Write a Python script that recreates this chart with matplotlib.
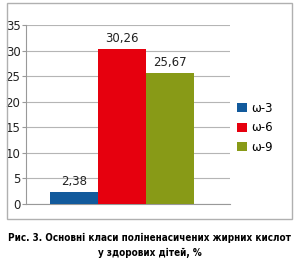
import matplotlib
matplotlib.use("Agg")
import matplotlib.pyplot as plt
from matplotlib.patches import Rectangle

series = ["ω-3", "ω-6", "ω-9"]
values = [2.38, 30.26, 25.67]
value_labels = ["2,38", "30,26", "25,67"]
colors = ["#125a9c", "#e6000e", "#889a17"]
yticks = [0, 5, 10, 15, 20, 25, 30, 35]
caption = "Рис. 3. Основні класи поліненасичених жирних кислот\nу здорових дітей, %"

W, H = 300, 265
fig = plt.figure(figsize=(W / 100, H / 100), dpi=100)

# outer frame
fig.patches.append(Rectangle((7 / W, 1 - 219 / H), (292 - 7) / W, (219 - 3) / H,
                             transform=fig.transFigure, fill=False,
                             edgecolor="#b0b0b0", linewidth=1.0))

ax = fig.add_axes([26 / W, 1 - 204 / H, (230 - 26) / W, (204 - 25) / H])
x = list(range(len(series)))
bars = ax.bar(x, values, width=1.0, color=colors, label=series, zorder=3)
ax.set_xlim(-1.0, 3.26)
ax.set_ylim(0, 35)
ax.set_yticks(yticks)
ax.set_yticklabels([str(t) for t in yticks], fontsize=8.5)
ax.set_xticks([])
ax.grid(axis="y", color="#b5b5b5", linewidth=0.8, zorder=0)
for s in ["top", "right"]:
    ax.spines[s].set_visible(False)
ax.spines["left"].set_color("#999999")
ax.spines["bottom"].set_color("#999999")
ax.tick_params(axis="y", length=3, color="#999999", pad=1, labelcolor="#222222")
for xi, v, lab in zip(x, values, value_labels):
    ax.text(xi, v + 0.8, lab, ha="center", va="bottom", fontsize=8.5, color="#222222")

ax.legend(handles=bars, labels=series, loc="center left", bbox_to_anchor=(1.0, 0.425),
          frameon=False, fontsize=8.5, handlelength=0.8, handleheight=0.8,
          handletextpad=0.4, labelspacing=0.55, borderaxespad=0.2)

fig.text(150 / W, 1 - 245.5 / H, caption, ha="center", va="center", fontsize=7.1,
         fontweight="bold", family="DejaVu Sans", fontstretch="condensed",
         linespacing=1.5)

fig.savefig("out.png", dpi=100)
